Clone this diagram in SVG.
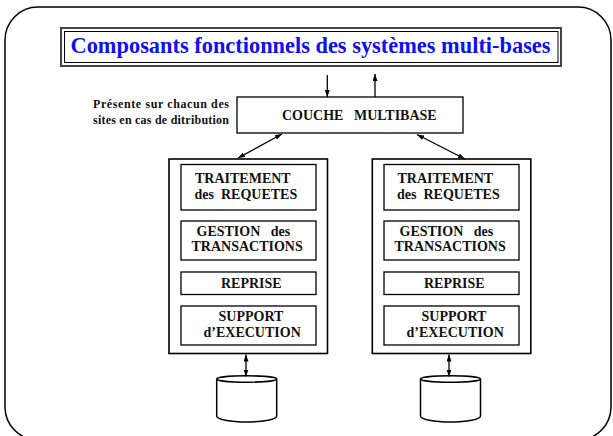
<svg xmlns="http://www.w3.org/2000/svg" width="613" height="436" viewBox="0 0 613 436">
  <style>
    .box { fill: #ffffff; stroke: #000000; stroke-width: 1.3; }
    .frame { fill: #ffffff; stroke: #000000; stroke-width: 1.6; }
    .lbl { font-weight: bold; font-size: 14px; fill: #111111; }
    .side { font-weight: bold; font-size: 12px; fill: #111111; }
    .title { font-weight: bold; font-size: 23.5px; fill: #1010f0; }
    .link { fill: none; stroke: #000000; stroke-width: 1.3; }
    .disk { fill: #ffffff; stroke: #000000; stroke-width: 1.5; }
  </style>
  <defs>
    <marker id="head" viewBox="0 0 7 5" markerWidth="7" markerHeight="5" refX="7" refY="2.5" orient="auto-start-reverse" markerUnits="userSpaceOnUse">
      <path d="M0,0 L7,2.5 L0,5 z" fill="#000000"/>
    </marker>
  </defs>

  <rect width="613" height="436" fill="#ffffff"/>

  <!-- page frame -->
  <rect id="page" x="5" y="7" width="606" height="433" rx="33" ry="33" fill="#ffffff" stroke="#000000" stroke-width="1.5"/>

  <g font-family="'Liberation Serif', 'Times New Roman', Times, serif">
  <!-- heading -->
  <g id="title">
    <rect x="61" y="28" width="500" height="38" fill="#ffffff" stroke="#444444" stroke-width="2"/>
    <rect x="64.5" y="31.5" width="493.5" height="31" fill="none" stroke="#000000" stroke-width="1"/>
    <text class="title" x="70.5" y="52.5" textLength="480" lengthAdjust="spacingAndGlyphs">Composants fonctionnels des systèmes multi-bases</text>
  </g>

  <!-- side note -->
  <g id="note">
    <text class="side" x="93" y="108" textLength="136">Présente sur chacun des</text>
    <text class="side" x="93" y="124" textLength="136">sites en cas de ditribution</text>
  </g>

  <!-- multibase layer -->
  <g id="couche">
    <rect class="box" x="237" y="97" width="226" height="36"/>
    <text class="lbl" x="282" y="120" xml:space="preserve">COUCHE   MULTIBASE</text>
  </g>

  <!-- left site -->
  <g id="site1">
    <rect class="frame" x="169" y="159" width="158.5" height="194.5"/>
    <g id="site1-traitement">
      <rect class="box" x="181" y="164.5" width="135" height="45.5"/>
      <text class="lbl" x="195" y="183">TRAITEMENT</text>
      <text class="lbl" x="194.5" y="199" xml:space="preserve">des  REQUETES</text>
    </g>
    <g id="site1-gestion">
      <rect class="box" x="181" y="221" width="135" height="39"/>
      <text class="lbl" x="196.5" y="236" xml:space="preserve">GESTION   des</text>
      <text class="lbl" x="191.5" y="251">TRANSACTIONS</text>
    </g>
    <g id="site1-reprise">
      <rect class="box" x="181" y="272" width="135" height="22.5"/>
      <text class="lbl" x="221" y="287.5">REPRISE</text>
    </g>
    <g id="site1-support">
      <rect class="box" x="181" y="306" width="135" height="39"/>
      <text class="lbl" x="218.5" y="320.5">SUPPORT</text>
      <text class="lbl" x="203.5" y="336.5">d’EXECUTION</text>
    </g>
  </g>

  <!-- right site -->
  <g id="site2">
    <rect class="frame" x="372.3" y="159" width="158.5" height="194.5"/>
    <g id="site2-traitement">
      <rect class="box" x="384" y="164.5" width="135" height="45.5"/>
      <text class="lbl" x="397.5" y="183">TRAITEMENT</text>
      <text class="lbl" x="397" y="199" xml:space="preserve">des  REQUETES</text>
    </g>
    <g id="site2-gestion">
      <rect class="box" x="384" y="221" width="135" height="39"/>
      <text class="lbl" x="399.5" y="236" xml:space="preserve">GESTION   des</text>
      <text class="lbl" x="394.5" y="251">TRANSACTIONS</text>
    </g>
    <g id="site2-reprise">
      <rect class="box" x="384" y="272" width="135" height="22.5"/>
      <text class="lbl" x="424" y="287.5">REPRISE</text>
    </g>
    <g id="site2-support">
      <rect class="box" x="384" y="306" width="135" height="39"/>
      <text class="lbl" x="421.5" y="320.5">SUPPORT</text>
      <text class="lbl" x="406.5" y="336.5">d’EXECUTION</text>
    </g>
  </g>
  </g>

  <!-- databases -->
  <g id="db1">
    <path class="disk" d="M216.7,379 L216.7,416 A30,6 0 0 0 276.7,416 L276.7,379"/>
    <ellipse class="disk" cx="246.7" cy="379" rx="30" ry="3.2"/>
  </g>
  <g id="db2">
    <path class="disk" d="M420.5,379 L420.5,416 A30,6 0 0 0 480.5,416 L480.5,379"/>
    <ellipse class="disk" cx="450.5" cy="379" rx="30" ry="3.2"/>
  </g>

  <!-- connectors -->
  <g id="connectors">
    <line class="link" x1="327.3" y1="75" x2="327.3" y2="97" marker-end="url(#head)"/>
    <line class="link" x1="375" y1="97" x2="375" y2="74" marker-end="url(#head)"/>
    <line class="link" x1="282" y1="134" x2="238" y2="158" marker-start="url(#head)" marker-end="url(#head)"/>
    <line class="link" x1="417" y1="134.5" x2="465" y2="159" marker-start="url(#head)" marker-end="url(#head)"/>
    <line class="link" x1="246" y1="354.5" x2="246" y2="376.5" marker-start="url(#head)" marker-end="url(#head)"/>
    <line class="link" x1="449" y1="354.5" x2="449" y2="376.5" marker-start="url(#head)" marker-end="url(#head)"/>
  </g>
</svg>
